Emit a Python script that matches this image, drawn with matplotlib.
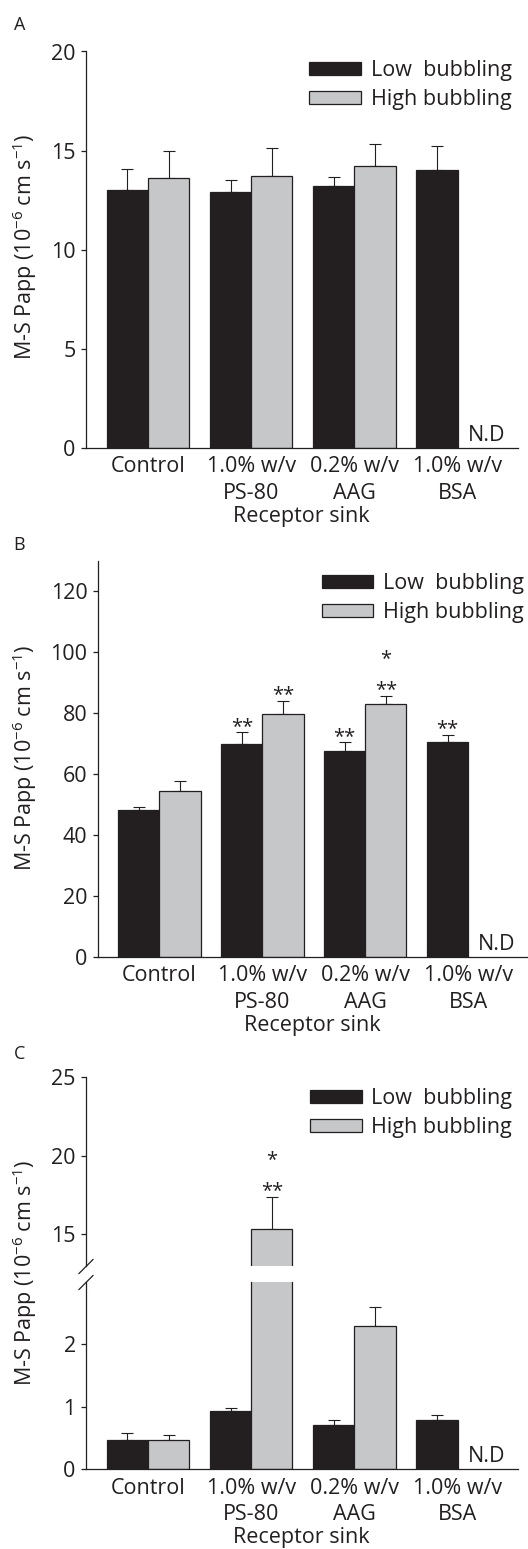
import numpy as np
import matplotlib
matplotlib.use("Agg")
import matplotlib.pyplot as plt
from matplotlib.lines import Line2D

plt.rcParams['font.family'] = ['Open Sans', 'DejaVu Sans']
plt.rcParams['mathtext.fontset'] = 'custom'
plt.rcParams['mathtext.rm'] = 'Open Sans'
plt.rcParams['mathtext.it'] = 'Open Sans:italic'
plt.rcParams['mathtext.fallback'] = 'stixsans'

# ---------------- data ----------------
categories = ['Control', '1.0% w/v\nPS-80', '0.2% w/v\nAAG', '1.0% w/v\nBSA']
series_names = ['Low  bubbling', 'High bubbling']

a_low = [13.03, 12.93, 13.24, 14.02]
a_low_err = [1.02, 0.58, 0.42, 1.19]
a_high = [13.63, 13.73, 14.22, np.nan]
a_high_err = [1.37, 1.39, 1.09, np.nan]

b_low = [48.1, 69.7, 67.6, 70.4]
b_low_err = [1.0, 3.9, 2.7, 2.5]
b_high = [54.5, 79.8, 83.0, np.nan]
b_high_err = [3.3, 4.2, 2.6, np.nan]
b_low_sig = ['', '**', '**', '**']
b_high_sig = ['', '**', '**', '']
b_high_sig2 = ['', '', '*', '']

c_low = [0.47, 0.93, 0.70, 0.78]
c_low_err = [0.11, 0.05, 0.09, 0.09]
c_high = [0.47, 15.3, 2.29, np.nan]
c_high_err = [0.07, 2.08, 0.30, np.nan]
c_high_sig = ['', '**', '', '']
c_high_sig2 = ['', '*', '', '']

nd_label = 'N.D'
ylabel = 'M-S Papp (10$^{-6}$ cm s$^{-1}$)'
xlabel = 'Receptor sink'

# ---------------- style ----------------
DARK = '#231f20'
GRAY = '#c6c7c9'
FS = 15.5
W, H = 528, 1549
fig = plt.figure(figsize=(W / 100, H / 100), dpi=100)


def px_axes(l, t, r, b):
    return fig.add_axes([l / W, 1 - b / H, (r - l) / W, (b - t) / H])


x = np.arange(len(categories))
bw = 0.4


def draw_bars(ax, low, low_err, high, high_err):
    ax.bar(x - bw / 2, low, bw, color=DARK, edgecolor=DARK, linewidth=0.9,
           label=series_names[0], zorder=2)
    ax.bar(x + bw / 2, high, bw, color=GRAY, edgecolor=DARK, linewidth=0.9,
           label=series_names[1], zorder=2)
    for xs, v, e in ((x - bw / 2, low, low_err), (x + bw / 2, high, high_err)):
        v = np.asarray(v, float)
        e = np.asarray(e, float)
        ax.errorbar(xs, v, yerr=[np.zeros_like(e), e], fmt='none', ecolor=DARK,
                    elinewidth=0.8, capsize=4.3, capthick=0.8, zorder=1)


def style_ax(ax, bottom=True):
    ax.set_xlim(-0.6, 3.58)
    for s in ('top', 'right'):
        ax.spines[s].set_visible(False)
    for s in ('left', 'bottom'):
        ax.spines[s].set_linewidth(0.9)
        ax.spines[s].set_color(DARK)
    ax.tick_params(axis='y', direction='out', length=3.4, width=0.9, pad=4,
                   labelsize=FS, colors=DARK)
    if bottom:
        ax.set_xticks(x)
        ax.set_xticklabels(categories)
        ax.tick_params(axis='x', length=0, pad=6, labelsize=FS, colors=DARK)
        for t in ax.get_xticklabels():
            t.set_linespacing(1.35)
        ax.set_xlabel(xlabel, fontsize=FS, labelpad=1.5, color=DARK)
    else:
        ax.spines['bottom'].set_visible(False)
        ax.set_xticks([])


def add_sig(ax, xs, vals, errs, marks, offset):
    for xi, v, e, m in zip(xs, vals, errs, marks):
        if m:
            ax.annotate(m, xy=(xi, v + e), xytext=(0, offset), textcoords='offset points',
                        ha='center', va='baseline', fontsize=FS - 1, color=DARK,
                        annotation_clip=False)


def add_nd(ax):
    ax.annotate(nd_label, xy=(x[-1] + 0.28, 0), xytext=(0, 5), textcoords='offset points',
                ha='center', va='baseline', fontsize=FS, color=DARK)


def add_legend(ax, l, t):
    ax.legend(loc='upper left', bbox_to_anchor=(l / W, 1 - t / H),
              bbox_transform=fig.transFigure, frameon=False, fontsize=FS,
              handlelength=2.4, handleheight=0.51, handletextpad=0.45,
              labelspacing=0.38, borderpad=0, borderaxespad=0, labelcolor=DARK)

# ---------------- panel A ----------------
axA = px_axes(86, 51.5, 517.5, 448)
draw_bars(axA, a_low, a_low_err, a_high, a_high_err)
axA.set_ylim(0, 20)
axA.set_yticks([0, 5, 10, 15, 20])
style_ax(axA)
add_nd(axA)
add_legend(axA, 309.3, 60)
fig.text(13.5 / W, 1 - 30 / H, 'A', fontsize=13, ha='left', va='baseline', color=DARK)
fig.text(25 / W, 1 - 247 / H, ylabel, rotation=90, ha='center', va='center',
         fontsize=FS, color=DARK)

# ---------------- panel B ----------------
axB = px_axes(97.6, 560.5, 528, 956.8)
draw_bars(axB, b_low, b_low_err, b_high, b_high_err)
axB.set_ylim(0, 130)
axB.set_yticks([0, 20, 40, 60, 80, 100, 120])
style_ax(axB)
add_nd(axB)
add_legend(axB, 321.5, 573)
add_sig(axB, x - bw / 2, b_low, b_low_err, b_low_sig, 0.5)
add_sig(axB, x + bw / 2, b_high, b_high_err, b_high_sig, 0.5)
add_sig(axB, x + bw / 2, b_high, b_high_err, b_high_sig2, 23)
fig.text(13.5 / W, 1 - 550.4 / H, 'B', fontsize=13, ha='left', va='baseline', color=DARK)
fig.text(25 / W, 1 - 758 / H, ylabel, rotation=90, ha='center', va='center',
         fontsize=FS, color=DARK)

# ---------------- panel C (broken axis) ----------------
axC_hi = px_axes(86, 1077.2, 517.5, 1265.5)
axC_lo = px_axes(86, 1281.7, 517.5, 1469.2)
draw_bars(axC_hi, c_low, c_low_err, c_high, c_high_err)
draw_bars(axC_lo, c_low, c_low_err, c_high, c_high_err)
axC_hi.set_ylim(13, 25)
axC_hi.set_yticks([15, 20, 25])
axC_lo.set_ylim(0, 3)
axC_lo.set_yticks([0, 1, 2])
style_ax(axC_hi, bottom=False)
style_ax(axC_lo)
add_nd(axC_lo)
add_legend(axC_hi, 310, 1088)
add_sig(axC_hi, x + bw / 2, c_high, c_high_err, c_high_sig, 0.5)
add_sig(axC_hi, x + bw / 2, c_high, c_high_err, c_high_sig2, 23)
d = 7
for ypx in (1266.5, 1282.5):
    fig.add_artist(Line2D([(86 - d) / W, (86 + d) / W],
                          [1 - (ypx + d) / H, 1 - (ypx - d) / H],
                          color=DARK, linewidth=0.9, transform=fig.transFigure))
fig.text(13.5 / W, 1 - 1059 / H, 'C', fontsize=13, ha='left', va='baseline', color=DARK)
fig.text(25 / W, 1 - 1273 / H, ylabel, rotation=90, ha='center', va='center',
         fontsize=FS, color=DARK)

fig.savefig('out.png', dpi=100)
